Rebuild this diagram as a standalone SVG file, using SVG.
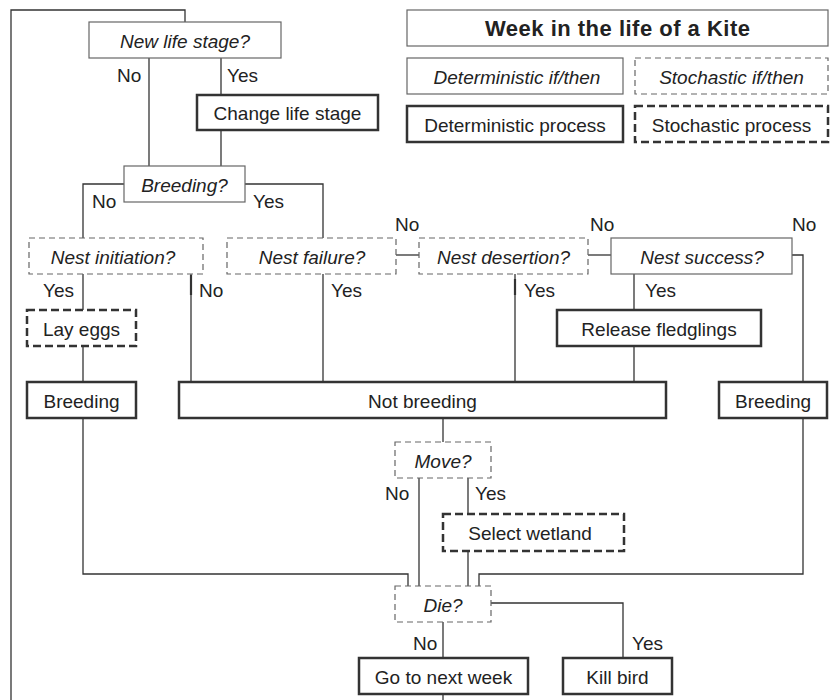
<svg xmlns="http://www.w3.org/2000/svg" width="831" height="700" viewBox="0 0 831 700">
<style>
rect{fill:#fff}
.thin{stroke:#666;stroke-width:1.2}
.thindash{stroke:#666;stroke-width:1.2;stroke-dasharray:6 4}
.thick{stroke:#333;stroke-width:2.5}
.thickdash{stroke:#333;stroke-width:2.5;stroke-dasharray:8 4}
.conn path{fill:none;stroke:#333;stroke-width:1.3}
text{font-family:"Liberation Sans",Arial,sans-serif;font-size:19px;fill:#222}
.it{font-style:italic}
.c{text-anchor:middle}
.b{font-weight:bold;font-size:22px}
</style>
<rect width="831" height="700" fill="#fff"/>
<g class="conn" id="connectors">
<path d="M11,700 V10 H185 V22"/>
<path d="M149,58 V166"/>
<path d="M221,58 V95"/>
<path d="M221,130 V166"/>
<path d="M124,184 H83 V238"/>
<path d="M245,184 H323 V238"/>
<path d="M83,274 V310"/>
<path d="M83,346 V382"/>
<path d="M191,274 V382"/>
<path d="M191,275 V295" style="stroke-width:2.2"/>
<path d="M323,274 V382"/>
<path d="M396,255 H419"/>
<path d="M588,255 H611"/>
<path d="M792,255 H803 V382"/>
<path d="M515,274 V382"/>
<path d="M515,279 V295" style="stroke-width:2.2"/>
<path d="M634,274 V310"/>
<path d="M634,346 V382"/>
<path d="M443,418 V442"/>
<path d="M83,418 V574 H408 V586"/>
<path d="M803,418 V574 H479 V586"/>
<path d="M419,478 V586"/>
<path d="M468,478 V514"/>
<path d="M468,551 V586"/>
<path d="M491,603 H623 V658"/>
<path d="M443,622 V658"/>
<path d="M443,694 V700"/>
</g>
<g id="labels">
<text x="117" y="82">No</text>
<text x="227" y="82">Yes</text>
<text x="92" y="208">No</text>
<text x="253" y="208">Yes</text>
<text x="395" y="231">No</text>
<text x="590" y="231">No</text>
<text x="792" y="231">No</text>
<text x="43" y="297">Yes</text>
<text x="199" y="297">No</text>
<text x="331" y="297">Yes</text>
<text x="524" y="297">Yes</text>
<text x="645" y="297">Yes</text>
<text x="385" y="500">No</text>
<text x="475" y="500">Yes</text>
<text x="413" y="650">No</text>
<text x="632" y="650">Yes</text>
</g>
<g id="newlife"><rect class="thin" x="89" y="22" width="192" height="36"/><text class="it c" x="185" y="48">New life stage?</text></g>
<g id="change"><rect class="thick" x="197" y="95" width="181" height="35"/><text class="c" x="287.5" y="120">Change life stage</text></g>
<g id="breedq"><rect class="thin" x="124" y="166" width="121" height="36"/><text class="it c" x="184.5" y="192">Breeding?</text></g>
<g id="nestinit"><rect class="thindash" x="29" y="238" width="174" height="36"/><text class="it c" x="113" y="264">Nest initiation?</text></g>
<g id="nestfail"><rect class="thindash" x="227" y="238" width="169" height="36"/><text class="it c" x="312" y="264">Nest failure?</text></g>
<g id="nestdes"><rect class="thindash" x="419" y="238" width="169" height="36"/><text class="it c" x="503.5" y="264">Nest desertion?</text></g>
<g id="nestsucc"><rect class="thin" x="611" y="238" width="181" height="36"/><text class="it c" x="702" y="264">Nest success?</text></g>
<g id="layeggs"><rect class="thickdash" x="27" y="310" width="109" height="36"/><text class="c" x="81.5" y="336">Lay eggs</text></g>
<g id="relfledg"><rect class="thick" x="557" y="310" width="204" height="36"/><text class="c" x="659" y="336">Release fledglings</text></g>
<g id="breedL"><rect class="thick" x="27" y="382" width="109" height="36"/><text class="c" x="81.5" y="408">Breeding</text></g>
<g id="notbreed"><rect class="thick" x="179" y="382" width="487" height="36"/><text class="c" x="422.5" y="408">Not breeding</text></g>
<g id="breedR"><rect class="thick" x="719" y="382" width="108" height="36"/><text class="c" x="773" y="408">Breeding</text></g>
<g id="move"><rect class="thindash" x="395" y="442" width="96" height="36"/><text class="it c" x="443" y="468">Move?</text></g>
<g id="selwet"><rect class="thickdash" x="443" y="514" width="181" height="37"/><text class="c" x="530" y="540">Select wetland</text></g>
<g id="die"><rect class="thindash" x="395" y="586" width="96" height="36"/><text class="it c" x="443" y="612">Die?</text></g>
<g id="gonext"><rect class="thick" x="359" y="658" width="169" height="36"/><text class="c" x="443.5" y="684">Go to next week</text></g>
<g id="kill"><rect class="thick" x="563" y="658" width="109" height="36"/><text class="c" x="617.5" y="684">Kill bird</text></g>
<g id="legend">
<g id="title"><rect class="thin" x="407" y="10" width="421" height="36"/><text class="b c" x="617.5" y="36" textLength="265">Week in the life of a Kite</text></g>
<g id="detif"><rect class="thin" x="407" y="58" width="216" height="36"/><text class="it c" x="517" y="84">Deterministic if/then</text></g>
<g id="stoif"><rect class="thindash" x="635" y="58" width="193" height="36"/><text class="it c" x="731.5" y="84">Stochastic if/then</text></g>
<g id="detproc"><rect class="thick" x="407" y="106" width="216" height="36"/><text class="c" x="515" y="132">Deterministic process</text></g>
<g id="stoproc"><rect class="thickdash" x="635" y="106" width="193" height="36"/><text class="c" x="731.5" y="132">Stochastic process</text></g>
</g>
</svg>
